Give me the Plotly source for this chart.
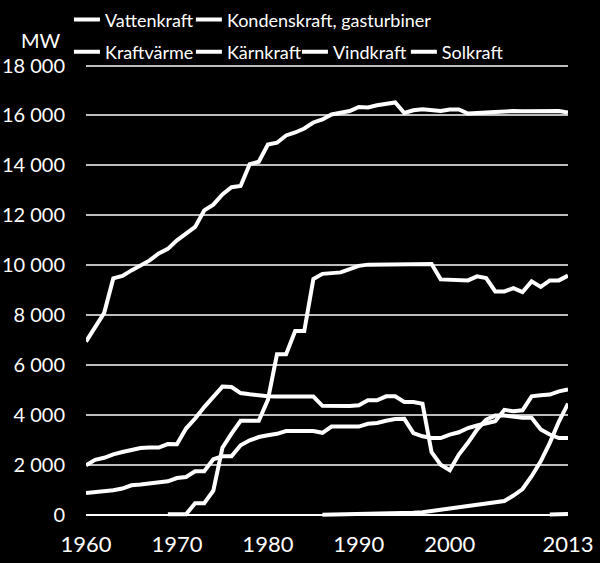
import plotly.graph_objects as go

years = list(range(1960, 2014))

vattenkraft = [6950, 7550, 8100, 9480, 9580, 9800, 10000, 10200, 10480, 10660,
               11000, 11270, 11540, 12200, 12430, 12840, 13130, 13180, 14050, 14150,
               14840, 14910, 15200, 15320, 15480, 15720, 15840, 16040, 16120, 16180,
               16340, 16320, 16410, 16480, 16520, 16100, 16210, 16250, 16210, 16180,
               16240, 16240, 16080, 16080, 16120, 16140, 16170, 16180, 16170, 16180,
               16180, 16180, 16180, 16120]

kondenskraft = [2000, 2220, 2300, 2440, 2530, 2600, 2690, 2710, 2710, 2850,
                2840, 3470, 3870, 4330, 4730, 5150, 5130, 4890, 4840, 4790,
                4760, 4750, 4750, 4750, 4750, 4750, 4380, 4370, 4370, 4370,
                4400, 4600, 4600, 4760, 4760, 4530, 4530, 4460, 2520, 2020,
                1800, 2430, 2900, 3430, 3830, 3990, 3990, 3940, 3900, 3900,
                3430, 3230, 3090, 3090]

kraftvarme = [890, 930, 930, 1000, 1070, 1200, 1230, 1270, 1290, 1360,
              1490, 1530, 1760, 1760, 2240, 2360, 2360, 2800, 3000, 3130,
              3200, 3260, 3370, 3370, 3370, 3370, 3300, 3550, 3550, 3550,
              3550, 3660, 3690, 3780, 3850, 3860, 3290, 3160, 3090, 3090,
              3230, 3320, 3490, 3590, 3680, 3760, 4220, 4160, 4200, 4760,
              4800, 4830, 4960, 5030]

karnkraft_years = list(range(1969, 2014))
karnkraft = [40, 40, 40, 480, 480, 980, 2700, 3270, 3780, 3780,
             3780, 4620, 6440, 6440, 7370, 7370, 9450, 9660, 9690, 9720,
             9850, 9980, 10030, 10040, 10050, 10050, 10050, 10050, 10060, 10060,
             9440, 9430, 9430, 9400, 9560, 9490, 8960, 8960, 9090, 8930,
             9360, 9140, 9400, 9400, 9590]

vindkraft_years = list(range(1986, 2014))
vindkraft = [20, 25, 30, 35, 40, 45, 50, 55, 60, 70,
             100, 120, 170, 215, 240, 290, 345, 400, 440, 510,
             570, 790, 1050, 1560, 2160, 2900, 3750, 4470]

solkraft_years = [2011, 2012, 2013]
solkraft = [35, 45, 55]

series = [
    ("Vattenkraft", years, vattenkraft),
    ("Kondenskraft, gasturbiner", years, kondenskraft),
    ("Kraftvärme", years, kraftvarme),
    ("Kärnkraft", karnkraft_years, karnkraft),
    ("Vindkraft", vindkraft_years, vindkraft),
    ("Solkraft", solkraft_years, solkraft),
]

y_ticks = [0, 2000, 4000, 6000, 8000, 10000, 12000, 14000, 16000, 18000]
y_ticktext = ["0", "2 000", "4 000", "6 000", "8 000", "10 000", "12 000",
              "14 000", "16 000", "18 000"]
x_ticks = [1960, 1970, 1980, 1990, 2000, 2013]
x_ticktext = ["1960", "1970", "1980", "1990", "2000", "2013"]

FONT = "Lato, sans-serif"
NUMFONT = "Lato, sans-serif"

legend_names = ["legend", "legend2", "legend3", "legend4", "legend5", "legend6"]
legend_pos = [(-0.025, 1.097), (0.228, 1.097),
              (-0.025, 1.026), (0.228, 1.026), (0.448, 1.026), (0.674, 1.026)]

fig = go.Figure()
for (name, xs, ys), lg in zip(series, legend_names):
    fig.add_trace(go.Scatter(x=xs, y=ys, mode="lines", name=name,
                             line=dict(color="white", width=4),
                             legend=lg, hoverinfo="skip"))

layout_legends = {}
for lg, (lx, ly) in zip(legend_names, legend_pos):
    layout_legends[lg] = dict(x=lx, y=ly, xanchor="left", yanchor="middle",
                              orientation="h", bgcolor="rgba(0,0,0,0)",
                              font=dict(family=FONT, size=18, color="white"),
                              itemwidth=30, indentation=-9, borderwidth=0)

fig.update_layout(
    width=600, height=563,
    paper_bgcolor="black", plot_bgcolor="black",
    margin=dict(l=86, r=32, t=64, b=44, autoexpand=False),
    showlegend=True,
    xaxis=dict(range=[1960, 2013], tickvals=x_ticks, ticktext=x_ticktext,
               showgrid=False, zeroline=False, showline=False, ticks="",
               tickfont=dict(family=NUMFONT, size=22, color="white"),
               ticklabelstandoff=10),
    yaxis=dict(range=[-150, 18060], tickvals=y_ticks, ticktext=y_ticktext,
               showgrid=True, gridcolor="#bdbdbd", gridwidth=1.5,
               zeroline=True, zerolinecolor="white", zerolinewidth=2,
               showline=False, ticks="",
               tickfont=dict(family=NUMFONT, size=20, color="white"),
               ticklabelstandoff=20),
    annotations=[dict(text="MW", xref="paper", yref="paper",
                      x=(63 - 86) / 482, y=(519 - 40) / 455,
                      xanchor="right", yanchor="middle", showarrow=False,
                      font=dict(family=NUMFONT, size=20, color="white"))],
    **layout_legends,
)

fig.write_html("out.html")
